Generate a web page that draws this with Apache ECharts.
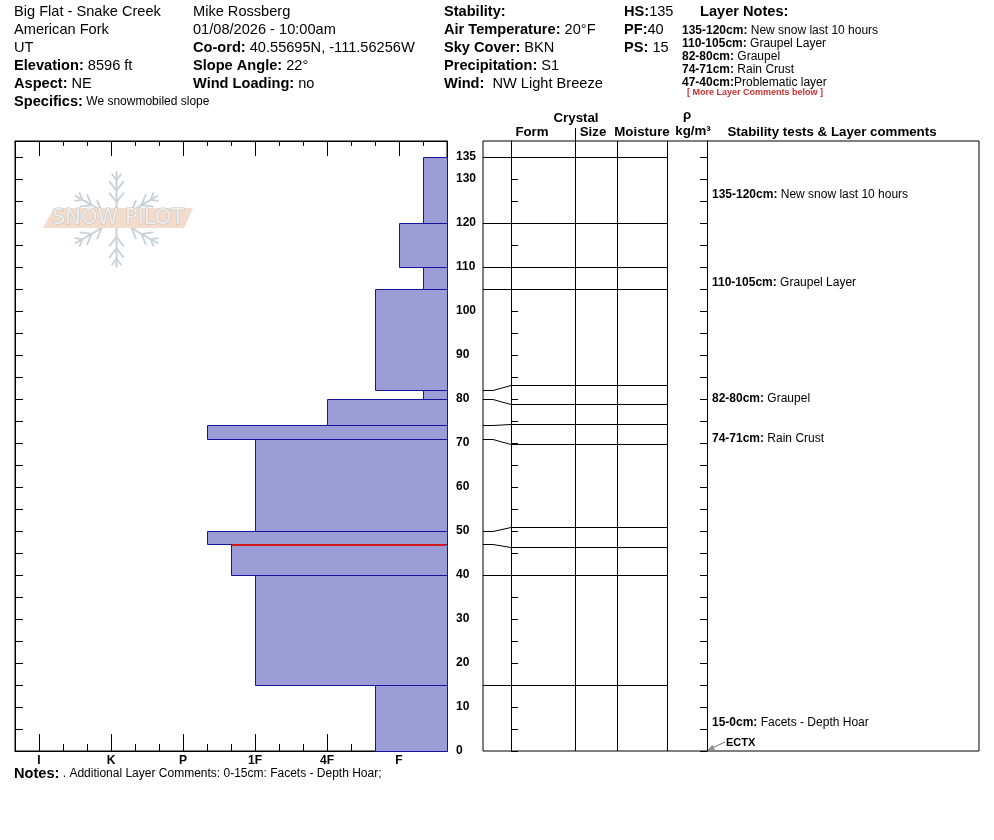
<!DOCTYPE html>
<html><head><meta charset="utf-8">
<script src="https://cdn.jsdelivr.net/npm/echarts@6/dist/echarts.min.js"></script>
<style>html,body{margin:0;padding:0;background:#fff}#c{width:994px;height:840px}</style>
</head><body><div id="c"></div>
<script>
// ---------------- DATA ----------------
const layerTops      = [135, 120, 110, 105, 82, 80, 74, 71, 50, 47, 40, 15];
const layerBottoms   = [120, 110, 105, 82, 80, 74, 71, 50, 47, 40, 15, 0];
const layerHardness  = ['F-', 'F', 'F-', 'F+', 'F-', '4F', 'P-', '1F', 'P-', '1F+', '1F', 'F+'];
const hardnessScale  = ['F-','F','F+','4F-','4F','4F+','1F-','1F','1F+','P-','P','P+','K-','K','K+','I-','I','I+'];
const hardnessTickLabels = ['F', '4F', '1F', 'P', 'K', 'I'];
const depthTicks     = [0,5,10,15,20,25,30,35,40,45,50,55,60,65,70,75,80,85,90,95,100,105,110,115,120,125,130,135];
const depthTickLabels = [0,10,20,30,40,50,60,70,80,90,100,110,120,130,135];
const boundaryDisplayDepths = [135, 120, 110, 105, 83.25, 78.9, 74.2, 69.8, 50.9, 46.3, 40, 15];
const problemLayerIndex = 9;
const commentLayers  = [0, 2, 4, 6, 11];
const commentRanges  = ['135-120cm:', '110-105cm:', '82-80cm:', '74-71cm:', '15-0cm:'];
const commentTexts   = [' New snow last 10 hours', ' Graupel Layer', ' Graupel', ' Rain Crust', ' Facets - Depth Hoar'];
const stabilityTestLabels = ['ECTX'];
const stabilityTestDepths = [0];

const headerCol1 = [['', 'Big Flat - Snake Creek'], ['', 'American Fork'], ['', 'UT'], ['Elevation:', ' 8596 ft'], ['Aspect:', ' NE']];
const headerCol2 = [['', 'Mike Rossberg'], ['', '01/08/2026 - 10:00am'], ['Co-ord:', ' 40.55695N, -111.56256W'], ['Slope Angle:', ' 22°'], ['Wind Loading:', ' no']];
const headerCol3 = [['Stability:', ''], ['Air Temperature:', ' 20°F'], ['Sky Cover:', ' BKN'], ['Precipitation:', ' S1'], ['Wind:', '  NW Light Breeze']];
const headerCol4 = [['HS:', '135'], ['PF:', '40'], ['PS:', ' 15']];
const layerNoteRanges = ['135-120cm:', '110-105cm:', '82-80cm:', '74-71cm:', '47-40cm:'];
const layerNoteTexts  = [' New snow last 10 hours', ' Graupel Layer', ' Graupel', ' Rain Crust', 'Problematic layer'];
const specificsText = ' We snowmobiled slope';
const notesText = ' . Additional Layer Comments: 0-15cm: Facets - Depth Hoar;';

// ---------------- LAYOUT ----------------
const FF = '"Liberation Sans", Arial, sans-serif';
const DEPTH_MAX = 138.6;
const PANEL_W = 496;            // right panel width in px units
const COL_FORM = 28, COL_KINK = 10, COL_END = 184, COL_RHO_END = 224, COL_COMMENT = 229;

function rt(x, y, bold, normal, bsize, nsize) {
  let t = '';
  if (bold) t += '{b|' + bold + '}';
  if (normal) t += '{n|' + normal + '}';
  return { type: 'text', x: x, y: y, silent: true, style: {
    text: t, verticalAlign: 'middle', align: 'left',
    rich: { b: { fontWeight: 'bold', fontSize: bsize, fontFamily: FF, fill: '#000' },
            n: { fontSize: nsize || bsize, fontFamily: FF, fill: '#000' } } } };
}
function ct(x, y, text, size, opts) {
  return Object.assign({ type: 'text', x: x, y: y, silent: true, style: Object.assign({
    text: text, fontSize: size, fontWeight: 'bold', fontFamily: FF, fill: '#000',
    align: 'center', verticalAlign: 'middle' }, opts || {}) });
}
function ln(x1, y1, x2, y2, color, w) {
  return { type: 'line', silent: true, shape: { x1, y1, x2, y2 }, style: { stroke: color || '#000', lineWidth: w || 1 } };
}

const g = [];
const HS = 14.6, rowY = [12, 30, 48, 66, 84];
headerCol1.forEach((r, i) => g.push(rt(14, rowY[i], r[0], r[1], HS)));
headerCol2.forEach((r, i) => g.push(rt(193, rowY[i], r[0], r[1], HS)));
headerCol3.forEach((r, i) => g.push(rt(444, rowY[i], r[0], r[1], HS)));
headerCol4.forEach((r, i) => g.push(rt(624, rowY[i], r[0], r[1], HS)));
g.push(rt(14, 102, 'Specifics:', specificsText, HS, 12));
g.push(rt(700, 12, 'Layer Notes:', '', HS));
layerNoteRanges.forEach((r, i) => g.push(rt(682, 30.5 + 13 * i, r, layerNoteTexts[i], 12)));
g.push(ct(755, 93, '[ More Layer Comments below ]', 9, { fill: '#c83232' }));
g.push(rt(14, 774, 'Notes:', notesText, HS, 12));

// table headers
const TH = 13.3;
g.push(ct(576, 118, 'Crystal', TH));
g.push(ct(532, 132, 'Form', TH));
g.push(ct(593, 132, 'Size', TH));
g.push(ct(642, 132, 'Moisture', TH));
g.push(ct(687, 115, 'ρ', TH));
g.push(ct(693, 131, 'kg/m³', TH));
g.push(ct(832, 132, 'Stability tests & Layer comments', TH));

// column lines in right panel
[575, 617, 667].forEach(x => g.push(ln(x + 0.5, 141, x + 0.5, 751)));
g.push(ln(575.5, 128, 575.5, 141));

// snowpilot logo
const flake = [];
const cx = 116.5, cy = 219.5, L = 48, FC = '#c8d0d8';
for (let k = 0; k < 6; k++) {
  const a = (90 + 60 * k) * Math.PI / 180;
  const ux = Math.cos(a), uy = -Math.sin(a);
  flake.push(ln(cx, cy, cx + ux * L, cy + uy * L, FC, 2));
  [[0.36, 12], [0.6, 12], [0.82, 8]].forEach(([f, bl]) => {
    const px = cx + ux * L * f, py = cy + uy * L * f;
    [-1, 1].forEach(s => {
      const b = a + s * 0.65;
      flake.push(ln(px, py, px + Math.cos(b) * bl, py - Math.sin(b) * bl, FC, 1.8));
    });
  });
}
g.push({ type: 'group', silent: true, children: flake.concat([
  { type: 'polygon', shape: { points: [[43, 228], [54, 208], [193, 208], [184, 228]] }, style: { fill: '#f3dccb' } },
  { type: 'text', x: 118, y: 219, style: { text: 'SNOW PILOT', fontSize: 21, fontFamily: '"DejaVu Sans", sans-serif',
      fill: '#eeeeee', stroke: '#bfbfbf', lineWidth: 1, align: 'center', verticalAlign: 'middle' } }
]) });

// ---------------- AXES ----------------
const majorVals = hardnessTickLabels.map(h => hardnessScale.indexOf(h) + 1);
const gridL = { left: 15, right: 994 - 447, top: 141, bottom: 840 - 751, show: true, borderColor: '#000', borderWidth: 1 };
const gridR = { left: 483, right: 994 - 979, top: 141, bottom: 840 - 751, show: true, borderColor: '#000', borderWidth: 1 };
const gridC = { left: 511, right: 994 - 707, top: 141, bottom: 840 - 751, show: false };
const blackLine = { show: true, onZero: false, lineStyle: { color: '#000', width: 1 } };
const noLine = { show: false, onZero: false };

function hx(pos, major, tlen, labels) {
  return { type: 'value', gridIndex: 0, position: pos, min: 0, max: 18, inverse: true,
    axisLine: major ? blackLine : noLine, splitLine: { show: false },
    axisTick: major ? { show: true, inside: true, length: tlen, customValues: majorVals, lineStyle: { color: '#000' } }
                    : { show: true, inside: true, length: tlen, interval: 1, lineStyle: { color: '#000' } },
    interval: major ? undefined : 1,
    axisLabel: labels ? { show: true, customValues: majorVals, margin: 4, color: '#000', fontWeight: 'bold', fontSize: 12, fontFamily: FF,
                          formatter: v => hardnessScale[Math.round(v) - 1] } : { show: false } };
}

const option = {
  animation: false,
  backgroundColor: '#fff',
  grid: [gridL, gridR, gridC],
  xAxis: [
    hx('bottom', true, 17, true),
    hx('bottom', false, 7, false),
    hx('top', true, 15, false),
    hx('top', false, 5, false),
    { type: 'value', gridIndex: 1, min: 0, max: PANEL_W, show: false },
    { type: 'value', gridIndex: 2, min: 0, max: 1, show: false }
  ],
  yAxis: [
    { type: 'value', gridIndex: 0, position: 'left', min: 0, max: DEPTH_MAX, interval: 5, axisLine: blackLine, splitLine: { show: false },
      axisTick: { show: true, inside: true, length: 8, customValues: depthTicks, lineStyle: { color: '#000' } }, axisLabel: { show: false } },
    { type: 'value', gridIndex: 0, position: 'right', min: 0, max: DEPTH_MAX, interval: 5, axisLine: blackLine, splitLine: { show: false },
      axisTick: { show: true, inside: true, length: 7, customValues: depthTicks, lineStyle: { color: '#000' } },
      axisLabel: { show: true, customValues: depthTickLabels, margin: 9, color: '#000', fontWeight: 'bold', fontSize: 12, fontFamily: FF } },
    { type: 'value', gridIndex: 1, min: 0, max: DEPTH_MAX, show: false },
    { type: 'value', gridIndex: 2, position: 'left', min: 0, max: DEPTH_MAX, interval: 5, axisLine: blackLine, splitLine: { show: false },
      axisTick: { show: true, inside: true, length: 7, customValues: depthTicks, lineStyle: { color: '#000' } }, axisLabel: { show: false } },
    { type: 'value', gridIndex: 2, position: 'right', min: 0, max: DEPTH_MAX, interval: 5, axisLine: blackLine, splitLine: { show: false },
      axisTick: { show: true, inside: true, length: 7, customValues: depthTicks, lineStyle: { color: '#000' } }, axisLabel: { show: false } }
  ],
  graphic: { elements: g },
  series: [
    { // hardness layers
      type: 'custom', xAxisIndex: 0, yAxisIndex: 0, clip: false,
      data: layerTops.map((t, i) => [hardnessScale.indexOf(layerHardness[i]) + 1, t, layerBottoms[i]]),
      renderItem: (p, api) => {
        const a = api.coord([api.value(0), api.value(1)]);
        const b = api.coord([0, api.value(2)]);
        const x1 = Math.round(a[0]) + 0.5, y1 = Math.round(a[1]) + 0.5, x2 = Math.round(b[0]) + 0.5, y2 = Math.round(b[1]) + 0.5;
        return { type: 'rect', shape: { x: x1, y: y1, width: x2 - x1, height: y2 - y1 },
                 style: { fill: '#9c9cd6', stroke: '#1414a0', lineWidth: 1 } };
      }
    },
    { // problematic layer marker
      type: 'custom', xAxisIndex: 0, yAxisIndex: 0, clip: false,
      data: [[hardnessScale.indexOf(layerHardness[problemLayerIndex]) + 1, layerTops[problemLayerIndex]]],
      renderItem: (p, api) => {
        const a = api.coord([api.value(0), api.value(1)]);
        const b = api.coord([0, api.value(1)]);
        const y = Math.round(a[1]) + 1;
        return { type: 'line', shape: { x1: Math.round(a[0]) + 1, y1: y, x2: b[0] - 1, y2: y }, style: { stroke: '#d01818', lineWidth: 2 } };
      }
    },
    { // layer boundaries in the right panel
      type: 'custom', xAxisIndex: 4, yAxisIndex: 2, clip: false,
      data: layerTops.map((d, i) => [d, boundaryDisplayDepths[i]]),
      renderItem: (p, api) => {
        const d = api.value(0), s = api.value(1);
        const r = q => [q[0], Math.round(q[1]) + 0.5];
        const pts = [r(api.coord([0, d])), r(api.coord([COL_KINK, d])), r(api.coord([COL_FORM, s])), r(api.coord([COL_END, s]))];
        return { type: 'polyline', shape: { points: pts }, style: { stroke: '#000', lineWidth: 1, fill: null } };
      }
    },
    { // layer comments
      type: 'custom', xAxisIndex: 4, yAxisIndex: 2, clip: false,
      data: commentLayers.map((li, i) => [li, i]),
      renderItem: (p, api) => {
        const li = api.value(0), i = api.value(1);
        const top = boundaryDisplayDepths[li];
        const bot = li + 1 < boundaryDisplayDepths.length ? boundaryDisplayDepths[li + 1] : 0;
        const c = api.coord([COL_COMMENT, (top + bot) / 2]);
        return { type: 'text', x: c[0], y: c[1] + 5, style: {
          text: '{b|' + commentRanges[i] + '}{n|' + commentTexts[i] + '}', verticalAlign: 'middle', align: 'left',
          rich: { b: { fontWeight: 'bold', fontSize: 12, fontFamily: FF, fill: '#000' }, n: { fontSize: 12, fontFamily: FF, fill: '#000' } } } };
      }
    },
    { // stability tests
      type: 'custom', xAxisIndex: 4, yAxisIndex: 2, clip: false,
      data: stabilityTestDepths.map((d, i) => [d, i]),
      renderItem: (p, api) => {
        const tip = api.coord([COL_RHO_END, api.value(0)]);
        const tx = tip[0] + 1, ty = tip[1] - 1;
        const ex = tx + 17, ey = ty - 8;
        const ang = Math.atan2(ey - ty, ex - tx);
        const h1 = [tx + Math.cos(ang + 0.45) * 7, ty + Math.sin(ang + 0.45) * 7];
        const h2 = [tx + Math.cos(ang - 0.45) * 7, ty + Math.sin(ang - 0.45) * 7];
        return { type: 'group', children: [
          { type: 'line', shape: { x1: tx, y1: ty, x2: ex, y2: ey }, style: { stroke: '#707070', lineWidth: 1 } },
          { type: 'polygon', shape: { points: [[tx, ty], h1, h2] }, style: { fill: '#909090' } },
          { type: 'text', x: ex + 1, y: ey + 1, style: { text: stabilityTestLabels[api.value(1)], fontWeight: 'bold', fontSize: 11,
              fontFamily: FF, fill: '#000', verticalAlign: 'middle', align: 'left' } }
        ] };
      }
    }
  ]
};

const chart = echarts.init(document.getElementById('c'), null, { renderer: 'canvas' });
chart.setOption(option);
</script></body></html>
